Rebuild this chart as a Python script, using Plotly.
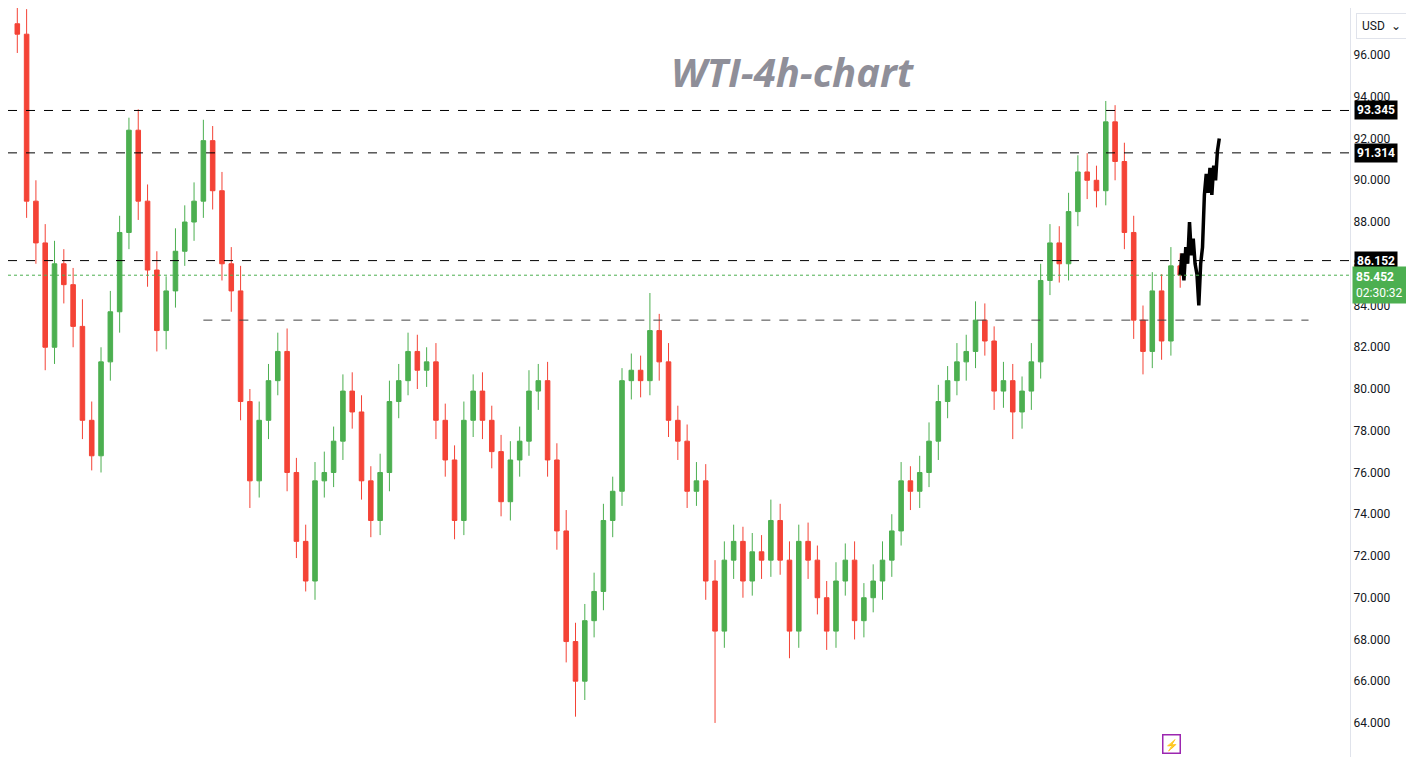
import plotly.graph_objects as go

# closing prices left to right
closes = [97.0, 89.0, 87.0, 82.0, 86.0, 85.0, 83.0, 78.5, 76.8, 81.3, 83.7, 87.5, 92.4, 89.0,
          85.7, 82.8, 84.7, 86.6, 88.0, 89.0, 91.9, 89.5, 86.0, 84.7, 79.4, 75.6, 78.5, 80.4,
          81.8, 76.0, 72.7, 70.8, 75.6, 76.0, 77.5, 79.9, 78.9, 75.6, 73.7, 76.0, 79.4, 80.4,
          81.8, 80.9, 81.3, 78.5, 76.6, 73.7, 78.5, 79.9, 78.5, 77.0, 74.6, 76.6, 77.5, 79.9,
          80.4, 76.6, 73.2, 67.9, 66.0, 68.9, 70.3, 73.7, 75.1, 80.4, 80.9, 80.4, 82.8, 81.3,
          78.5, 77.5, 75.1, 75.6, 70.8, 68.4, 71.8, 72.7, 70.8, 72.2, 71.8, 73.7, 71.8, 68.4,
          72.7, 71.8, 70.0, 68.4, 70.8, 71.8, 68.9, 70.0, 70.8, 71.8, 73.2, 75.6, 75.1, 76.0,
          77.5, 79.4, 80.4, 81.3, 81.8, 83.3, 82.3, 79.9, 80.4, 78.9, 79.9, 81.3, 85.2, 87.0,
          86.0, 88.5, 90.4, 90.0, 89.5, 92.8, 90.9, 87.5, 83.3, 81.8, 84.7, 82.3, 85.9, 85.452]
# extra wick above / below the candle body
wick_hi = [0.8, 1.2, 1.0, 0.9, 1.1, 0.7, 0.8, 1.3, 0.9, 0.7, 1.0, 0.8, 0.6, 1.0,
           0.8, 0.9, 0.7, 1.1, 0.8, 0.9, 1.0, 0.7, 0.9, 0.8, 1.2, 0.6, 0.9, 0.8,
           0.9, 1.1, 0.7, 0.8, 0.9, 1.0, 0.7, 0.8, 0.9, 0.8, 0.7, 0.9, 1.0, 0.8,
           0.9, 0.8, 0.7, 0.9, 0.8, 0.7, 0.9, 0.8, 0.9, 0.7, 0.8, 0.9, 0.7, 1.0,
           0.8, 0.9, 0.8, 1.0, 0.9, 0.8, 0.9, 0.8, 0.7, 0.6, 0.8, 0.7, 1.8, 0.8,
           0.9, 0.7, 0.8, 0.9, 0.8, 1.0, 0.9, 0.8, 0.7, 0.9, 0.8, 1.0, 0.8, 0.9,
           0.8, 0.9, 0.7, 0.8, 0.9, 0.8, 0.9, 0.7, 0.8, 0.9, 0.8, 0.9, 0.7, 0.8,
           0.9, 0.8, 0.7, 0.9, 0.8, 0.9, 0.8, 0.7, 0.9, 0.8, 0.7, 0.9, 0.8, 0.9,
           0.8, 0.9, 0.8, 0.9, 0.7, 1.0, 0.8, 0.9, 0.8, 0.7, 0.9, 0.8, 0.9, 0.6]
wick_lo = [0.9, 0.8, 1.0, 1.1, 0.8, 0.9, 1.0, 0.9, 0.7, 0.8, 0.9, 1.0, 0.8, 0.9,
           0.8, 1.0, 0.9, 0.8, 0.7, 0.9, 0.8, 0.9, 0.8, 1.0, 0.9, 1.3, 0.8, 0.9,
           0.7, 0.9, 0.8, 0.5, 0.9, 0.8, 0.7, 0.9, 0.8, 0.9, 0.8, 0.7, 0.9, 0.8,
           0.7, 0.9, 0.8, 0.9, 0.8, 0.9, 0.7, 0.8, 0.9, 0.8, 0.7, 0.9, 0.8, 0.7,
           0.9, 0.8, 0.9, 1.0, 1.7, 0.9, 0.8, 0.9, 0.8, 0.7, 0.9, 0.8, 0.7, 0.9,
           0.8, 0.9, 0.8, 0.7, 0.9, 4.4, 0.8, 0.9, 0.8, 0.7, 0.9, 0.8, 0.7, 1.3,
           0.8, 0.9, 0.8, 0.9, 0.8, 0.7, 0.9, 0.8, 0.7, 0.9, 0.8, 0.7, 0.9, 0.8,
           0.7, 0.9, 0.8, 0.7, 0.9, 0.8, 0.7, 0.9, 0.8, 1.3, 0.8, 0.9, 0.8, 0.7,
           0.9, 0.8, 0.7, 0.9, 0.8, 0.7, 0.9, 0.8, 0.9, 1.1, 0.8, 0.9, 0.7, 0.6]

# hand-drawn projection after the last candle
proj = [85.45, 86.5, 85.2, 86.8, 86.0, 88.0, 86.4, 87.2, 86.0, 85.5, 84.0, 86.0, 86.8,
        89.3, 90.3, 89.4, 90.6, 89.3, 90.7, 90.0, 91.4, 92.0]

levels = [93.345, 91.314, 86.152]
support = 83.3
last_price = 85.452
timer = "02:30:32"

opens = [closes[0] + 0.5] + closes[:-1]
highs = [max(o, c) + w for o, c, w in zip(opens, closes, wick_hi)]
lows = [min(o, c) - w for o, c, w in zip(opens, closes, wick_lo)]
idx = list(range(len(closes)))
n = len(closes) - 1
proj_x = [n + 0.2 * k for k in range(len(proj))]

x_max = n * 1350 / 1178

fig = go.Figure()
fig.add_trace(go.Candlestick(
    x=idx, open=opens, high=highs, low=lows, close=closes,
    increasing=dict(line=dict(color="#4caf50", width=1), fillcolor="#4caf50"),
    decreasing=dict(line=dict(color="#f44336", width=1), fillcolor="#f44336"),
    whiskerwidth=0, showlegend=False))
fig.add_trace(go.Scatter(x=proj_x, y=proj, mode="lines",
                         line=dict(color="black", width=3.5), showlegend=False))

for lv in levels:
    fig.add_shape(type="line", xref="x", yref="y", x0=-1, x1=x_max, y0=lv, y1=lv,
                  line=dict(color="black", width=1, dash="dash"))
    fig.add_annotation(xref="paper", yref="y", x=1.0, y=lv, xanchor="left", xshift=4,
                       text=f"<b>{lv:.3f}</b>", showarrow=False, bgcolor="black",
                       font=dict(color="white", size=12, family="Roboto"), borderpad=2)
fig.add_shape(type="line", xref="x", yref="y", x0=20, x1=n * 1308 / 1178, y0=support, y1=support,
              line=dict(color="#444", width=1, dash="dash"))
fig.add_shape(type="line", xref="x", yref="y", x0=-1, x1=x_max, y0=last_price, y1=last_price,
              line=dict(color="#4caf50", width=1, dash="dot"))
fig.add_annotation(xref="paper", yref="y", x=1.0, y=last_price, xanchor="left", yanchor="top",
                   xshift=2, yshift=9, text=f"<b>{last_price:.3f}</b><br>{timer}", showarrow=False,
                   bgcolor="#4caf50", align="left", borderpad=3,
                   font=dict(color="white", size=12, family="Roboto"))

fig.add_annotation(xref="paper", yref="paper", x=0.585, y=0.955, yanchor="top",
                   text="<b><i>WTI-4h-chart</i></b>",
                   showarrow=False, font=dict(size=40, color="#8f8f99", family="Open Sans"))
fig.add_annotation(xref="paper", yref="paper", x=1.0, y=0.993, xanchor="left", yanchor="top",
                   xshift=6, text="USD  ⌄", showarrow=False, bordercolor="#e0e3eb", borderwidth=1,
                   borderpad=5, font=dict(size=12, color="#131722", family="Roboto"))
fig.add_annotation(xref="paper", yref="paper", x=0.874, y=0.015, text="⚡", showarrow=False,
                   bordercolor="#9c27b0", borderwidth=1.5, borderpad=1,
                   font=dict(size=11, color="#9c27b0"))

fig.update_layout(
    width=1414, height=757,
    margin=dict(l=0, r=72, t=0, b=0),
    paper_bgcolor="white", plot_bgcolor="white",
    xaxis=dict(range=[-1, x_max], visible=False, rangeslider=dict(visible=False)),
    yaxis=dict(side="right", range=[61.985, 98.255], tickvals=list(range(64, 97, 2)),
               tickformat=".3f", showgrid=False, zeroline=False, showline=True,
               linecolor="#e0e3eb", ticks="", tickfont=dict(size=12, color="#131722", family="Roboto")),
)

fig.write_html("out.html")
